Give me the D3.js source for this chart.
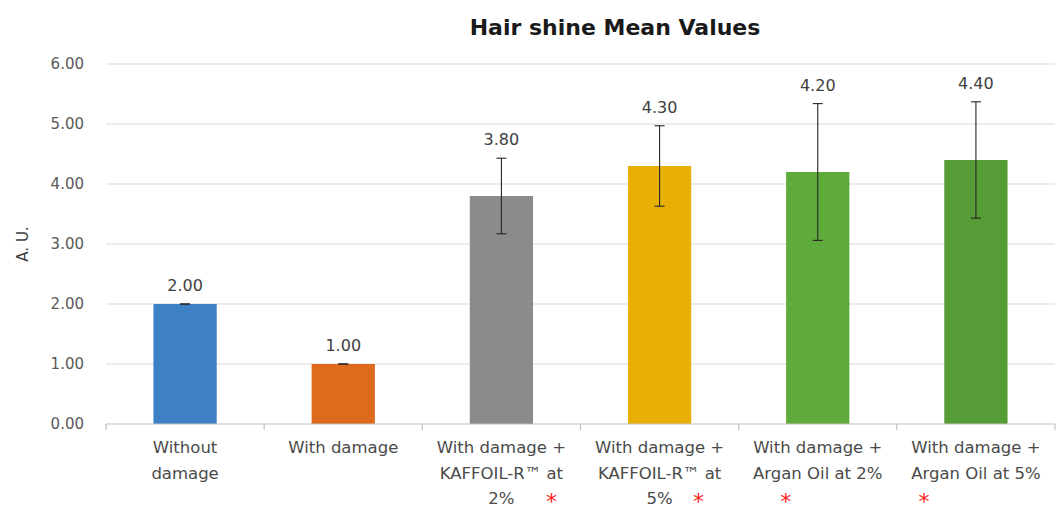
<!DOCTYPE html>
<html>
<head>
<meta charset="utf-8">
<script src="https://cdn.jsdelivr.net/npm/d3@7"></script>
<style>
  body { margin: 0; background: #fff; }
  svg { display: block; }
  text { font-family: "DejaVu Sans", sans-serif; }
</style>
</head>
<body>
<svg id="chart" width="1059" height="532"></svg>
<script>
// Treatment groups (label lines), mean shine values and error half-widths
const categories = [
  ["Without", "damage"],
  ["With damage"],
  ["With damage +", "KAFFOIL-R\u2122 at", "2%"],
  ["With damage +", "KAFFOIL-R\u2122 at", "5%"],
  ["With damage +", "Argan Oil at 2%"],
  ["With damage +", "Argan Oil at 5%"]
];
const means = [2.00, 1.00, 3.80, 4.30, 4.20, 4.40];
const errors = [0.00, 0.00, 0.63, 0.67, 1.14, 0.97];
const significant = [false, false, true, true, true, true];
const barColors = ["#3e80c6", "#de6b1c", "#8b8b8b", "#e8b007", "#5eab3b", "#569c36"];
const yTicks = [0, 1, 2, 3, 4, 5, 6];
// horizontal placement of each significance star relative to its category centre
const starOffsets = [0, 0, 50, 39, -32, -52];

const svg = d3.select("#chart");
const margin = { top: 64, right: 4, bottom: 108, left: 106 };
const width = 1059 - margin.left - margin.right;
const height = 532 - margin.top - margin.bottom;
const g = svg.append("g").attr("transform", `translate(${margin.left},${margin.top})`);

const idx = categories.map((_, i) => i);
const x = d3.scaleBand().domain(idx).range([0, width]).paddingInner(0.6).paddingOuter(0.3);
const xb = d3.scaleBand().domain(idx).range([0, width]);
const y = d3.scaleLinear().domain([0, 6]).range([height, 0]);

// Horizontal gridlines
g.append("g").selectAll("line").data(yTicks.filter(t => t > 0)).join("line")
  .attr("x1", 0).attr("x2", width)
  .attr("y1", d => y(d)).attr("y2", d => y(d))
  .attr("stroke", "#dadada").attr("stroke-width", 1.2);

// Y axis labels
const yAxis = g.append("g").call(d3.axisLeft(y).tickValues(yTicks).tickFormat(d3.format(".2f")).tickSize(0).tickPadding(22));
yAxis.select(".domain").remove();
yAxis.selectAll("text").attr("fill", "#595959").style("font-size", "15px");

// Y axis title
svg.append("text")
  .attr("transform", `translate(28,${margin.top + y(3)}) rotate(-90)`)
  .attr("text-anchor", "middle")
  .attr("fill", "#404040").style("font-size", "15px")
  .text("A. U.");

// Bars
g.append("g").selectAll("rect").data(idx).join("rect")
  .attr("x", i => x(i)).attr("width", x.bandwidth())
  .attr("y", i => y(means[i])).attr("height", i => y(0) - y(means[i]))
  .attr("fill", i => barColors[i]);

// X axis baseline with category separator ticks
const xAxisG = g.append("g").attr("transform", `translate(0,${height})`);
xAxisG.append("line").attr("x1", 0).attr("x2", width).attr("y1", 0).attr("y2", 0)
  .attr("stroke", "#bfbfbf").attr("stroke-width", 1.2);
xAxisG.selectAll("line.tick").data(d3.range(0, categories.length + 1)).join("line")
  .attr("class", "tick")
  .attr("x1", i => i * xb.step()).attr("x2", i => i * xb.step())
  .attr("y1", 0).attr("y2", 6)
  .attr("stroke", "#bfbfbf").attr("stroke-width", 1.2);

// Error bars
const eb = g.append("g").attr("stroke", "#262626").attr("stroke-width", 1.1);
idx.forEach(i => {
  const cx = x(i) + x.bandwidth() / 2;
  const hi = y(means[i] + errors[i]), lo = y(means[i] - errors[i]);
  eb.append("line").attr("x1", cx).attr("x2", cx).attr("y1", hi).attr("y2", lo);
  eb.append("line").attr("x1", cx - 5).attr("x2", cx + 5).attr("y1", hi).attr("y2", hi);
  eb.append("line").attr("x1", cx - 5).attr("x2", cx + 5).attr("y1", lo).attr("y2", lo);
});

// Value labels above the error bars
g.append("g").selectAll("text").data(idx).join("text")
  .attr("x", i => x(i) + x.bandwidth() / 2)
  .attr("y", i => y(means[i] + errors[i]) - 13)
  .attr("text-anchor", "middle")
  .attr("fill", "#404040").style("font-size", "16px")
  .text(i => d3.format(".2f")(means[i]));

// Category labels
const lab = g.append("g").attr("transform", `translate(0,${height})`);
idx.forEach(i => {
  const t = lab.append("text")
    .attr("x", xb(i) + xb.bandwidth() / 2)
    .attr("y", 29)
    .attr("text-anchor", "middle")
    .attr("fill", "#4a4a4a").style("font-size", "16.5px");
  categories[i].forEach((line, k) => {
    t.append("tspan").attr("x", xb(i) + xb.bandwidth() / 2).attr("dy", k === 0 ? 0 : 25.5).text(line);
  });
});

// Significance markers
lab.selectAll("text.sig").data(idx.filter(i => significant[i])).join("text")
  .attr("class", "sig")
  .attr("x", i => xb(i) + xb.bandwidth() / 2 + starOffsets[i])
  .attr("y", 85)
  .attr("text-anchor", "middle")
  .attr("fill", "#ff1a1a").style("font-size", "22px")
  .text("*");

// Title
svg.append("text")
  .attr("x", 615).attr("y", 35)
  .attr("text-anchor", "middle")
  .attr("fill", "#1a1a1a").style("font-size", "22px").style("font-weight", "bold")
  .text("Hair shine Mean Values");
</script>
</body>
</html>
